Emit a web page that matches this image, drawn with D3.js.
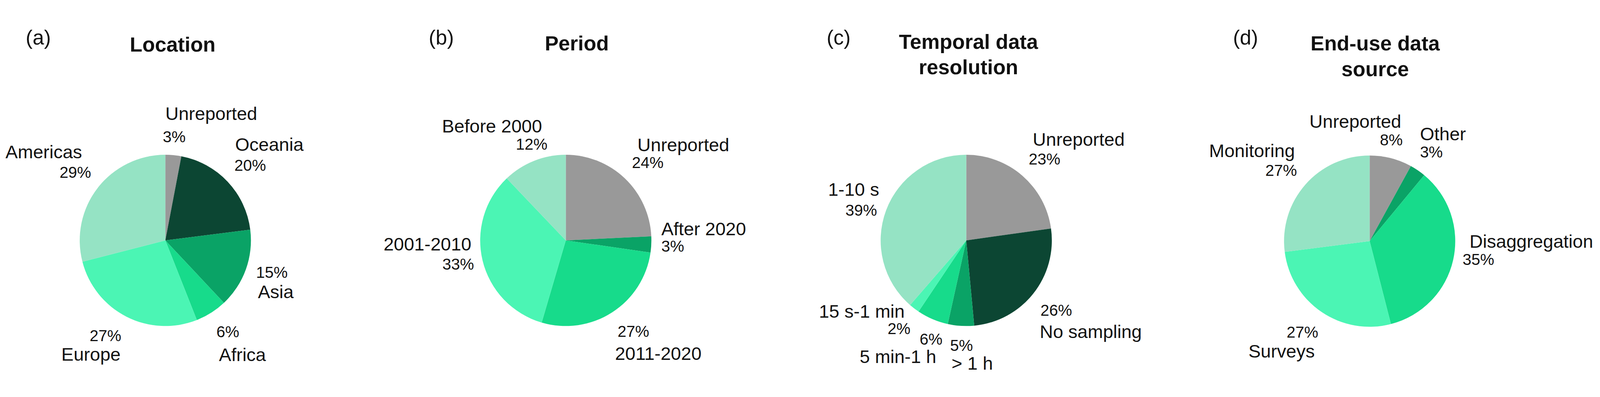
<!DOCTYPE html>
<html>
<head>
<meta charset="utf-8">
<script src="https://cdn.jsdelivr.net/npm/d3@7"></script>
<style>
  html, body { margin: 0; padding: 0; background: #fff; overflow: hidden; }
  svg { display: block; }
  text { font-family: "Liberation Sans", Arial, sans-serif; fill: #111; }
</style>
</head>
<body>
<div id="chart"></div>
<script>
// data (clockwise from 12 o'clock)
var locationCats = ["Unreported", "Oceania", "Asia", "Africa", "Europe", "Americas"];
var locationVals = [3, 20, 15, 6, 27, 29];

var periodCats = ["Unreported", "After 2020", "2011-2020", "2001-2010", "Before 2000"];
var periodVals = [24, 3, 27, 33, 12];

var resolutionCats = ["Unreported", "No sampling", "> 1 h", "5 min-1 h", "15 s-1 min", "1-10 s"];
var resolutionVals = [23, 26, 5, 6, 2, 39];

var sourceCats = ["Unreported", "Other", "Disaggregation", "Surveys", "Monitoring"];
var sourceVals = [8, 3, 35, 27, 27];

var panelTags = ["(a)", "(b)", "(c)", "(d)"];
var panelTitles = [["Location"], ["Period"], ["Temporal data", "resolution"], ["End-use data", "source"]];

////////////////////////////////////////////////////////////
//////////////////////// Set-Up ////////////////////////////
////////////////////////////////////////////////////////////
var width = 4355, height = 1016, radius = 233;

var gray = "#999999", dark = "#0c4633", medium = "#0aa366",
    bright = "#17db8b", light = "#4bf5b4", pale = "#95e3c4";

var panels = [
  {cats: locationCats, vals: locationVals, cx: 450, cy: 622,
   colors: [gray, dark, medium, bright, light, pale]},
  {cats: periodCats, vals: periodVals, cx: 1540, cy: 622,
   colors: [gray, medium, bright, light, pale]},
  {cats: resolutionCats, vals: resolutionVals, cx: 2630, cy: 622,
   colors: [gray, dark, medium, bright, light, pale]},
  {cats: sourceCats, vals: sourceVals, cx: 3728, cy: 624,
   colors: [gray, medium, bright, light, pale]}
];

// where the labels were dragged to, relative to the pie centre: [name dx, dy, pct dx, dy]
var labelLayout = [
  [[0, -328, -7, -267], [190, -244, 188, -189], [252, 157, 247, 102],
   [146, 328, 139, 263], [-283, 327, -206, 274], [-435, -224, -288, -170]],
  [[195, -243, 180, -197], [260, -14, 260, 31], [134, 325, 141, 262],
   [-496, 27, -336, 79], [-337, -294, -136, -247]],
  [[181, -258, 170, -206], [200, 266, 202, 205], [-40, 352, -44, 301],
   [-290, 334, -127, 284], [-401, 210, -214, 255], [-376, -121, -329, -67]],
  [[-164, -308, 28, -261], [137, -274, 137, -228], [272, 18, 253, 65],
   [-330, 317, -226, 263], [-437, -229, -284, -178]]
];
var tagDx = [-380, -373, -380, -372];
var titleDx = [20, 30, 6, 15];
var titleY = [[108], [105], [101, 170], [105, 175]];

// viewBox so the drawing fills whatever the real viewport is
var svg = d3.select("#chart").append("svg")
  .attr("viewBox", "0 0 " + width + " " + height)
  .attr("preserveAspectRatio", "xMidYMid meet")
  .style("width", "100vw")
  .style("height", "100vh");

svg.append("rect").attr("width", width).attr("height", height).attr("fill", "#fff");

var pie = d3.pie().sort(null).value(function(d) { return d; });
var arc = d3.arc().innerRadius(0).outerRadius(radius);

////////////////////////////////////////////////////////////
///////////////////// Draw the pies ////////////////////////
////////////////////////////////////////////////////////////
panels.forEach(function(p, k) {
  var color = d3.scaleOrdinal().domain(p.cats).range(p.colors);

  var g = svg.append("g")
    .attr("transform", "translate(" + p.cx + "," + p.cy + ")");

  g.selectAll("path.slice")
    .data(pie(p.vals))
    .enter().append("path")
    .attr("class", "slice")
    .attr("d", arc)
    .attr("fill", function(d, i) { return color(p.cats[i]); });

  // panel tag and title
  g.append("text")
    .attr("x", tagDx[k])
    .attr("y", 89 - p.cy)
    .style("font-size", "56px")
    .text(panelTags[k]);

  panelTitles[k].forEach(function(line, j) {
    g.append("text")
      .attr("x", titleDx[k])
      .attr("y", titleY[k][j] - p.cy)
      .attr("text-anchor", "middle")
      .style("font-size", "56px")
      .style("font-weight", "bold")
      .text(line);
  });

  // data labels: category name + percentage
  var lab = g.selectAll("g.label")
    .data(p.cats)
    .enter().append("g")
    .attr("class", "label");

  lab.append("text")
    .attr("x", function(d, i) { return labelLayout[k][i][0]; })
    .attr("y", function(d, i) { return labelLayout[k][i][1]; })
    .style("font-size", "50px")
    .text(function(d) { return d; });

  lab.append("text")
    .attr("x", function(d, i) { return labelLayout[k][i][2]; })
    .attr("y", function(d, i) { return labelLayout[k][i][3]; })
    .style("font-size", "43px")
    .text(function(d, i) { return p.vals[i] + "%"; });
});
</script>
</body>
</html>
